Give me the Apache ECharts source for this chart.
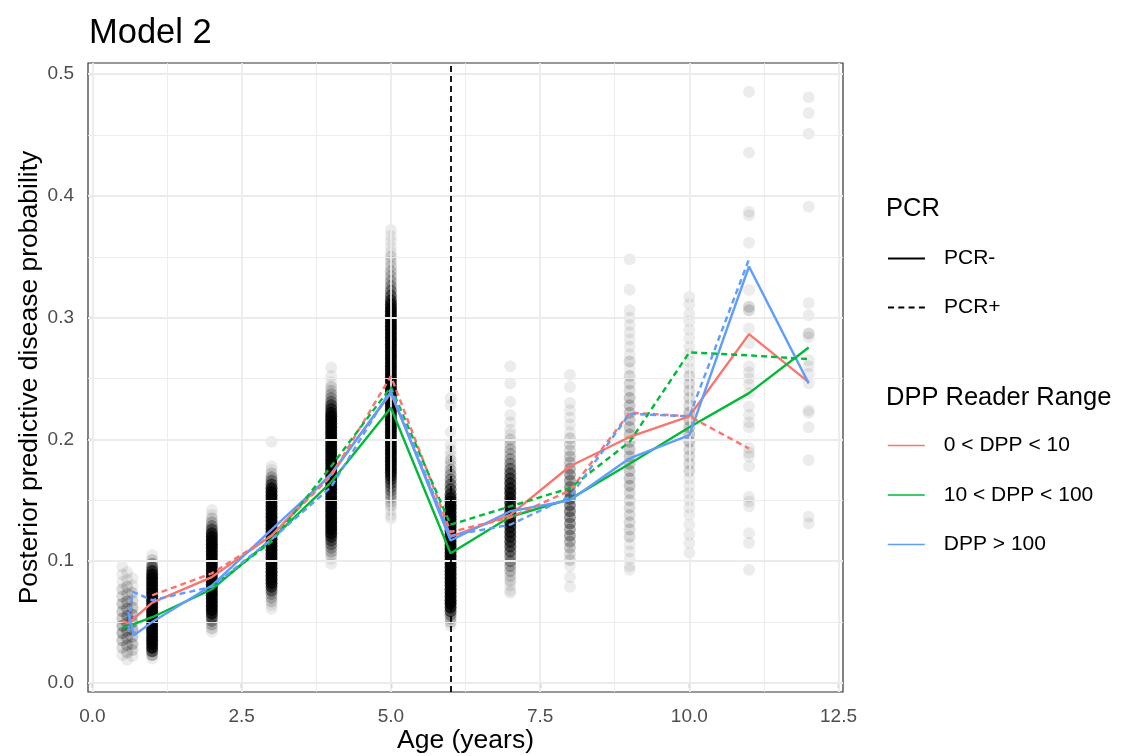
<!DOCTYPE html>
<html>
<head>
<meta charset="utf-8">
<script src="https://cdn.jsdelivr.net/npm/echarts@6/dist/echarts.min.js"></script>
<style>html,body{margin:0;padding:0;background:#fff}#c{width:1139px;height:756px}</style>
</head>
<body>
<div id="c"></div>
<script>
// ---------- axis ticks ----------
const ageTicks = [0, 2.5, 5, 7.5, 10, 12.5];
const ageMinor = [1.25, 3.75, 6.25, 8.75, 11.25];
const probTicks = [0, 0.1, 0.2, 0.3, 0.4, 0.5];
const probMinor = [0.05, 0.15, 0.25, 0.35, 0.45];

// ---------- posterior predictive draws: [probability, multiplicity] per age ----------
const pts_050 = [[0.0955,1],[0.089,1],[0.083,1],[0.077,2],[0.071,2],[0.065,3],[0.059,3],[0.053,3],[0.047,4],[0.041,4],[0.035,3],[0.029,2],[0.023,1]];
const pts_058 = [[0.091,1],[0.085,1],[0.079,2],[0.073,2],[0.067,3],[0.061,3],[0.055,4],[0.049,4],[0.043,4],[0.037,3],[0.031,3],[0.025,2],[0.019,1]];
const pts_067 = [[0.086,1],[0.080,1],[0.074,2],[0.068,2],[0.062,3],[0.056,4],[0.050,4],[0.044,4],[0.038,3],[0.032,3],[0.027,2],[0.022,1]];
const pts_1 = [[0.105,1],[0.101,2],[0.098,4],[0.095,8],[0.092,14],[0.089,22],
  [0.086,25],[0.083,25],[0.080,25],[0.077,25],[0.074,25],[0.071,25],[0.068,25],[0.065,25],[0.062,25],[0.059,25],
  [0.056,25],[0.053,25],[0.050,25],[0.047,25],[0.044,25],[0.041,25],[0.038,25],[0.035,25],[0.032,25],
  [0.029,22],[0.026,10],[0.023,4],[0.020,1]];
const pts_2 = [[0.142,1],[0.138,1],[0.135,2],[0.132,3],[0.129,5],[0.126,9],[0.123,15],[0.120,22],
  [0.117,25],[0.114,25],[0.111,25],[0.108,25],[0.105,25],[0.102,25],[0.099,25],[0.096,25],[0.093,25],[0.090,25],
  [0.087,25],[0.084,25],[0.081,25],[0.078,25],[0.075,25],[0.072,25],[0.069,25],[0.066,25],[0.063,25],[0.060,25],
  [0.057,18],[0.054,10],[0.051,5],[0.048,3],[0.045,2],[0.042,1]];
const pts_3 = [[0.198,1],[0.178,1],[0.175,1],[0.172,2],[0.169,4],[0.166,6],[0.163,10],[0.160,16],[0.157,22],
  [0.154,25],[0.151,25],[0.148,25],[0.145,25],[0.142,25],[0.139,25],[0.136,25],[0.133,25],[0.130,25],[0.127,25],
  [0.124,25],[0.121,25],[0.118,25],[0.115,25],[0.112,25],[0.109,25],[0.106,25],[0.103,25],[0.100,25],[0.097,25],
  [0.094,25],[0.091,25],[0.088,25],[0.085,25],
  [0.082,20],[0.079,14],[0.076,8],[0.073,4],[0.070,3],[0.067,2],[0.064,1],[0.061,1]];
const pts_4 = [[0.259,1],[0.252,1],[0.247,1],[0.243,2],[0.240,2],[0.237,3],[0.234,4],[0.231,6],[0.228,9],[0.225,13],[0.222,18],[0.219,23],
  [0.216,25],[0.213,25],[0.210,25],[0.207,25],[0.204,25],[0.201,25],[0.198,25],[0.195,25],[0.192,25],[0.189,25],
  [0.186,25],[0.183,25],[0.180,25],[0.177,25],[0.174,25],[0.171,25],[0.168,25],[0.165,25],[0.162,25],[0.159,25],
  [0.156,25],[0.153,25],[0.150,25],[0.147,25],[0.144,25],[0.141,25],[0.138,25],[0.135,25],[0.132,25],[0.129,25],[0.126,25],
  [0.123,20],[0.120,14],[0.117,9],[0.114,6],[0.111,4],[0.108,3],[0.105,2],[0.102,1],[0.098,1]];
const pts_5 = [[0.372,1],[0.367,1],[0.363,1],[0.358,1],[0.354,1],[0.350,2],[0.346,2],[0.342,2],[0.338,3],[0.334,3],
  [0.330,4],[0.326,5],[0.322,7],[0.318,10],[0.314,14],[0.311,18],[0.308,22],
  [0.305,25],[0.302,25],[0.299,25],[0.296,25],[0.293,25],[0.290,25],[0.287,25],[0.284,25],[0.281,25],[0.278,25],
  [0.275,25],[0.272,25],[0.269,25],[0.266,25],[0.263,25],[0.260,25],[0.257,25],[0.254,25],[0.251,25],[0.248,25],
  [0.245,25],[0.242,25],[0.239,25],[0.236,25],[0.233,25],[0.230,25],[0.227,25],[0.224,25],[0.221,25],[0.218,25],
  [0.215,25],[0.212,25],[0.209,25],[0.206,25],[0.203,25],[0.200,25],[0.197,25],[0.194,25],[0.191,25],[0.188,25],
  [0.185,25],[0.182,25],[0.179,25],[0.176,25],
  [0.173,20],[0.170,15],[0.167,11],[0.164,8],[0.161,6],[0.158,5],[0.155,4],[0.152,3],[0.149,2],[0.146,2],[0.142,1],[0.138,1],[0.135,1]];
const pts_6 = [[0.234,1],[0.228,1],[0.206,1],[0.196,1],[0.191,1],[0.187,1],[0.183,2],[0.179,2],[0.175,3],[0.171,4],
  [0.167,5],[0.163,7],[0.159,9],[0.155,12],[0.152,16],[0.149,20],
  [0.146,25],[0.143,25],[0.140,25],[0.137,25],[0.134,25],[0.131,25],[0.128,25],[0.125,25],[0.122,25],[0.119,25],
  [0.116,25],[0.113,25],[0.110,25],[0.107,25],[0.104,25],[0.101,25],[0.098,25],[0.095,25],[0.092,25],[0.089,25],
  [0.086,25],[0.083,25],[0.080,25],[0.077,25],[0.074,25],[0.071,25],[0.068,25],[0.065,25],
  [0.062,18],[0.059,10],[0.056,5],[0.053,3],[0.050,2],[0.047,1]];
const pts_7 = [[0.260,1],[0.246,1],[0.231,1],[0.220,1],[0.214,1],[0.208,1],[0.204,1],[0.200,2],[0.196,2],[0.192,3],
  [0.188,3],[0.184,4],[0.180,5],[0.176,7],[0.172,9],[0.168,11],[0.164,13],[0.160,15],[0.156,17],[0.152,18],
  [0.148,18],[0.144,18],[0.140,18],[0.136,17],[0.132,17],[0.128,16],[0.124,15],[0.120,14],[0.116,12],[0.112,10],
  [0.108,8],[0.104,6],[0.100,5],[0.096,4],[0.092,3],[0.088,2],[0.084,2],[0.080,1],[0.076,1],[0.074,1]];
const pts_8 = [[0.253,1],[0.243,1],[0.230,1],[0.224,1],[0.218,1],[0.212,1],[0.206,1],[0.201,2],[0.196,2],[0.191,2],
  [0.186,3],[0.181,3],[0.176,4],[0.171,5],[0.166,5],[0.161,6],[0.156,7],[0.151,7],[0.146,7],[0.141,7],
  [0.136,6],[0.131,6],[0.126,5],[0.121,5],[0.116,4],[0.111,3],[0.106,2],[0.101,2],[0.096,1],[0.087,1],[0.079,1]];
const pts_9 = [[0.348,1],[0.323,1],[0.306,1],[0.300,1],[0.294,1],[0.288,1],[0.282,1],[0.276,1],[0.270,1],[0.264,2],[0.258,1],[0.252,2],[0.246,2],[0.240,2],[0.234,3],[0.228,3],[0.222,3],[0.216,3],[0.210,3],[0.204,3],[0.198,3],[0.192,3],[0.186,3],[0.180,3],[0.174,3],[0.168,3],[0.162,3],[0.156,2],[0.150,2],[0.144,2],[0.138,2],[0.132,2],[0.126,2],[0.120,2],[0.114,1],[0.108,1],[0.102,1],[0.096,1],[0.093,1]];
const pts_10 = [[0.317,1],[0.311,1],[0.303,1],[0.297,1],[0.290,1],[0.283,1],[0.276,1],[0.270,1],[0.264,1],[0.258,1],[0.252,2],[0.246,2],[0.240,2],[0.234,2],[0.228,2],[0.222,3],[0.216,3],[0.210,3],[0.204,3],[0.198,3],[0.192,2],[0.186,2],[0.180,2],[0.174,2],[0.168,1],[0.162,1],[0.156,1],[0.150,1],[0.144,1],[0.138,1],[0.130,1],[0.122,1],[0.115,1],[0.107,1]];
const pts_11 = [[0.4855,1],[0.4355,1],[0.387,1],[0.384,1],[0.3615,1],[0.3227,1],[0.309,2],[0.306,2],[0.291,1],[0.279,1],[0.260,1],[0.255,1],[0.250,1],[0.245,1],[0.238,1],[0.227,1],[0.220,1],[0.214,1],[0.210,1],[0.193,1],[0.189,1],[0.186,1],[0.178,1],[0.153,1],[0.149,1],[0.145,1],[0.123,1],[0.115,1],[0.093,1]];
const pts_12 = [[0.481,1],[0.468,1],[0.451,1],[0.391,1],[0.312,1],[0.302,1],[0.287,2],[0.284,1],[0.265,1],[0.260,1],[0.254,1],[0.246,1],[0.224,1],[0.222,1],[0.210,1],[0.183,1],[0.1365,1],[0.131,1]];
const pointAges = [0.5, 0.58, 0.67, 1, 2, 3, 4, 5, 6, 7, 8, 9, 10, 11, 12];
const pointCols = [pts_050, pts_058, pts_067, pts_1, pts_2, pts_3, pts_4, pts_5, pts_6, pts_7, pts_8, pts_9, pts_10, pts_11, pts_12];

// ---------- mean posterior predictive lines ----------
const redSolidAge = [0.5, 0.6, 1, 2, 3, 4, 5, 6, 7, 8, 9, 10, 11, 12];
const redSolidProb = [0.051, 0.049, 0.066, 0.087, 0.121, 0.172, 0.238, 0.120, 0.138, 0.178, 0.202, 0.219, 0.2865, 0.247];
const redDashAge = [1, 2, 3, 4, 5, 6, 7, 8, 9, 10, 11];
const redDashProb = [0.072, 0.090, 0.121, 0.170, 0.252, 0.124, 0.136, 0.158, 0.222, 0.219, 0.1925];
const greenSolidAge = [0.5, 0.67, 1, 2, 3, 4, 5, 6, 7, 8, 9, 10, 11, 12];
const greenSolidProb = [0.045, 0.048, 0.054, 0.077, 0.118, 0.165, 0.226, 0.1065, 0.1365, 0.151, 0.180, 0.210, 0.238, 0.2755];
const greenDashAge = [2, 3, 4, 5, 6, 7, 8, 9, 10, 11, 12];
const greenDashProb = [0.079, 0.116, 0.178, 0.243, 0.130, 0.145, 0.160, 0.198, 0.2715, 0.269, 0.266];
const blueSolidAge = [0.6, 0.69, 1, 2, 3, 4, 5, 6, 7, 8, 9, 10, 11, 12];
const blueSolidProb = [0.0585, 0.039, 0.050, 0.080, 0.126, 0.171, 0.239, 0.117, 0.141, 0.150, 0.1845, 0.2035, 0.342, 0.246];
const blueDashAge = [0.6, 0.67, 1, 2, 3, 4, 5, 6, 7, 8, 9, 10, 11];
const blueDashProb = [0.042, 0.075, 0.068, 0.079, 0.118, 0.161, 0.241, 0.121, 0.130, 0.153, 0.221, 0.219, 0.348];

const groupNames = ['0 < DPP < 10', '10 < DPP < 100', 'DPP > 100'];
const pcrNames = ['PCR-', 'PCR+'];
const cutoffAge = 6;

// ---------- build ----------
const FONT = 'Liberation Sans, Arial, sans-serif';
const COLORS = ['#F8766D', '#00BA38', '#619CFF'];
const ALPHA = 0.075;
const zip = (a, b) => a.map((v, i) => [v, b[i]]);

const scatterData = [];
pointCols.forEach((col, ci) => {
  col.forEach(([y, n]) => {
    scatterData.push({ value: [pointAges[ci], y], itemStyle: { opacity: 1 - Math.pow(1 - ALPHA, n) } });
  });
});

const gridLineData = [];
ageTicks.forEach(v => gridLineData.push({ xAxis: v, lineStyle: { width: 1.8 } }));
ageMinor.forEach(v => gridLineData.push({ xAxis: v, lineStyle: { width: 0.9 } }));
probTicks.forEach(v => gridLineData.push({ yAxis: v, lineStyle: { width: 1.8 } }));
probMinor.forEach(v => gridLineData.push({ yAxis: v, lineStyle: { width: 0.9 } }));

function lineSeries(name, ages, probs, color, dashed) {
  return {
    name: name, type: 'line', data: zip(ages, probs), symbol: 'none', showSymbol: false,
    z: 5, silent: true,
    lineStyle: { color: color, width: 2.4, type: dashed ? [6, 4] : 'solid' },
    itemStyle: { color: color }
  };
}

const series = [
  { name: 'grid', type: 'line', data: [], z: 1, silent: true,
    markLine: { silent: true, symbol: ['none', 'none'], label: { show: false },
      lineStyle: { color: '#ebebeb', type: 'solid' }, emphasis: { disabled: true }, data: gridLineData } },
  { name: 'draws', type: 'scatter', data: scatterData, symbolSize: 12, z: 2, silent: true,
    itemStyle: { color: '#000' } },
  { name: 'cutoff', type: 'line', data: [], z: 4, silent: true,
    markLine: { silent: true, symbol: ['none', 'none'], label: { show: false },
      lineStyle: { color: '#000', type: [6, 4], width: 1.8 }, emphasis: { disabled: true },
      data: [{ xAxis: cutoffAge }] } },
  { name: pcrNames[0], type: 'line', data: [], symbol: 'none', lineStyle: { color: '#000', width: 2.2, type: 'solid' }, itemStyle: { color: '#000' } },
  { name: pcrNames[1], type: 'line', data: [], symbol: 'none', lineStyle: { color: '#000', width: 2.2, type: [6, 4.3] }, itemStyle: { color: '#000' } },
  lineSeries(groupNames[0], redSolidAge, redSolidProb, COLORS[0], false),
  lineSeries(groupNames[1], greenSolidAge, greenSolidProb, COLORS[1], false),
  lineSeries(groupNames[2], blueSolidAge, blueSolidProb, COLORS[2], false),
  lineSeries(groupNames[0], redDashAge, redDashProb, COLORS[0], true),
  lineSeries(groupNames[1], greenDashAge, greenDashProb, COLORS[1], true),
  lineSeries(groupNames[2], blueDashAge, blueDashProb, COLORS[2], true)
];

const legendText = { fontFamily: FONT, fontSize: 21, color: '#000', padding: [0, 0, 0, 14], lineHeight: 18 };
const chart = echarts.init(document.getElementById('c'), null, { renderer: 'canvas' });
chart.setOption({
  animation: false,
  backgroundColor: '#fff',
  textStyle: { fontFamily: FONT },
  title: [
    { text: 'Model 2', left: 84, top: 11, textStyle: { fontFamily: FONT, fontSize: 34.5, fontWeight: 'normal', color: '#000' } },
    { text: 'PCR', left: 881, top: 191, textStyle: { fontFamily: FONT, fontSize: 25.5, fontWeight: 'normal', color: '#000' } },
    { text: 'DPP Reader Range', left: 881, top: 380, textStyle: { fontFamily: FONT, fontSize: 25.5, fontWeight: 'normal', color: '#000' } }
  ],
  legend: [
    { orient: 'vertical', left: 882, top: 243, itemWidth: 37, itemHeight: 18, itemGap: 28,
      data: pcrNames, selectedMode: false, itemStyle: { opacity: 0 },
      textStyle: legendText },
    { orient: 'vertical', left: 882, top: 430, itemWidth: 37, itemHeight: 18, itemGap: 28.5,
      data: groupNames.map(n => ({ name: n, lineStyle: { width: 1.6, type: 'solid' } })), selectedMode: false,
      itemStyle: { opacity: 0 },
      textStyle: legendText }
  ],
  grid: { left: 88, top: 63, width: 755, height: 629, show: true, backgroundColor: '#fff', borderColor: '#333333', borderWidth: 1.2,
    containLabel: false, outerBoundsMode: 'none' },
  xAxis: {
    type: 'value', min: -0.075, max: 12.575,
    name: 'Age (years)', nameLocation: 'middle', nameGap: 35, nameMoveOverlap: false,
    nameTextStyle: { fontFamily: FONT, fontSize: 26.5, color: '#000' },
    axisLine: { show: false },
    axisTick: { show: true, customValues: ageTicks, length: 5, lineStyle: { color: '#333333', width: 1.2 } },
    axisLabel: { customValues: ageTicks, formatter: v => v.toFixed(1), margin: 15, fontFamily: FONT, fontSize: 19, color: '#4d4d4d' },
    splitLine: { show: false }
  },
  yAxis: {
    type: 'value', min: -0.0074, max: 0.5091,
    name: 'Posterior predictive disease probability', nameLocation: 'middle', nameGap: 45, nameMoveOverlap: false,
    nameTextStyle: { fontFamily: FONT, fontSize: 26.5, color: '#000' },
    axisLine: { show: false },
    axisTick: { show: true, customValues: probTicks, length: 5, lineStyle: { color: '#333333', width: 1.2 } },
    axisLabel: { customValues: probTicks, formatter: v => v.toFixed(1), margin: 14, fontFamily: FONT, fontSize: 19, color: '#4d4d4d' },
    splitLine: { show: false }
  },
  series: series
});
</script>
</body>
</html>
